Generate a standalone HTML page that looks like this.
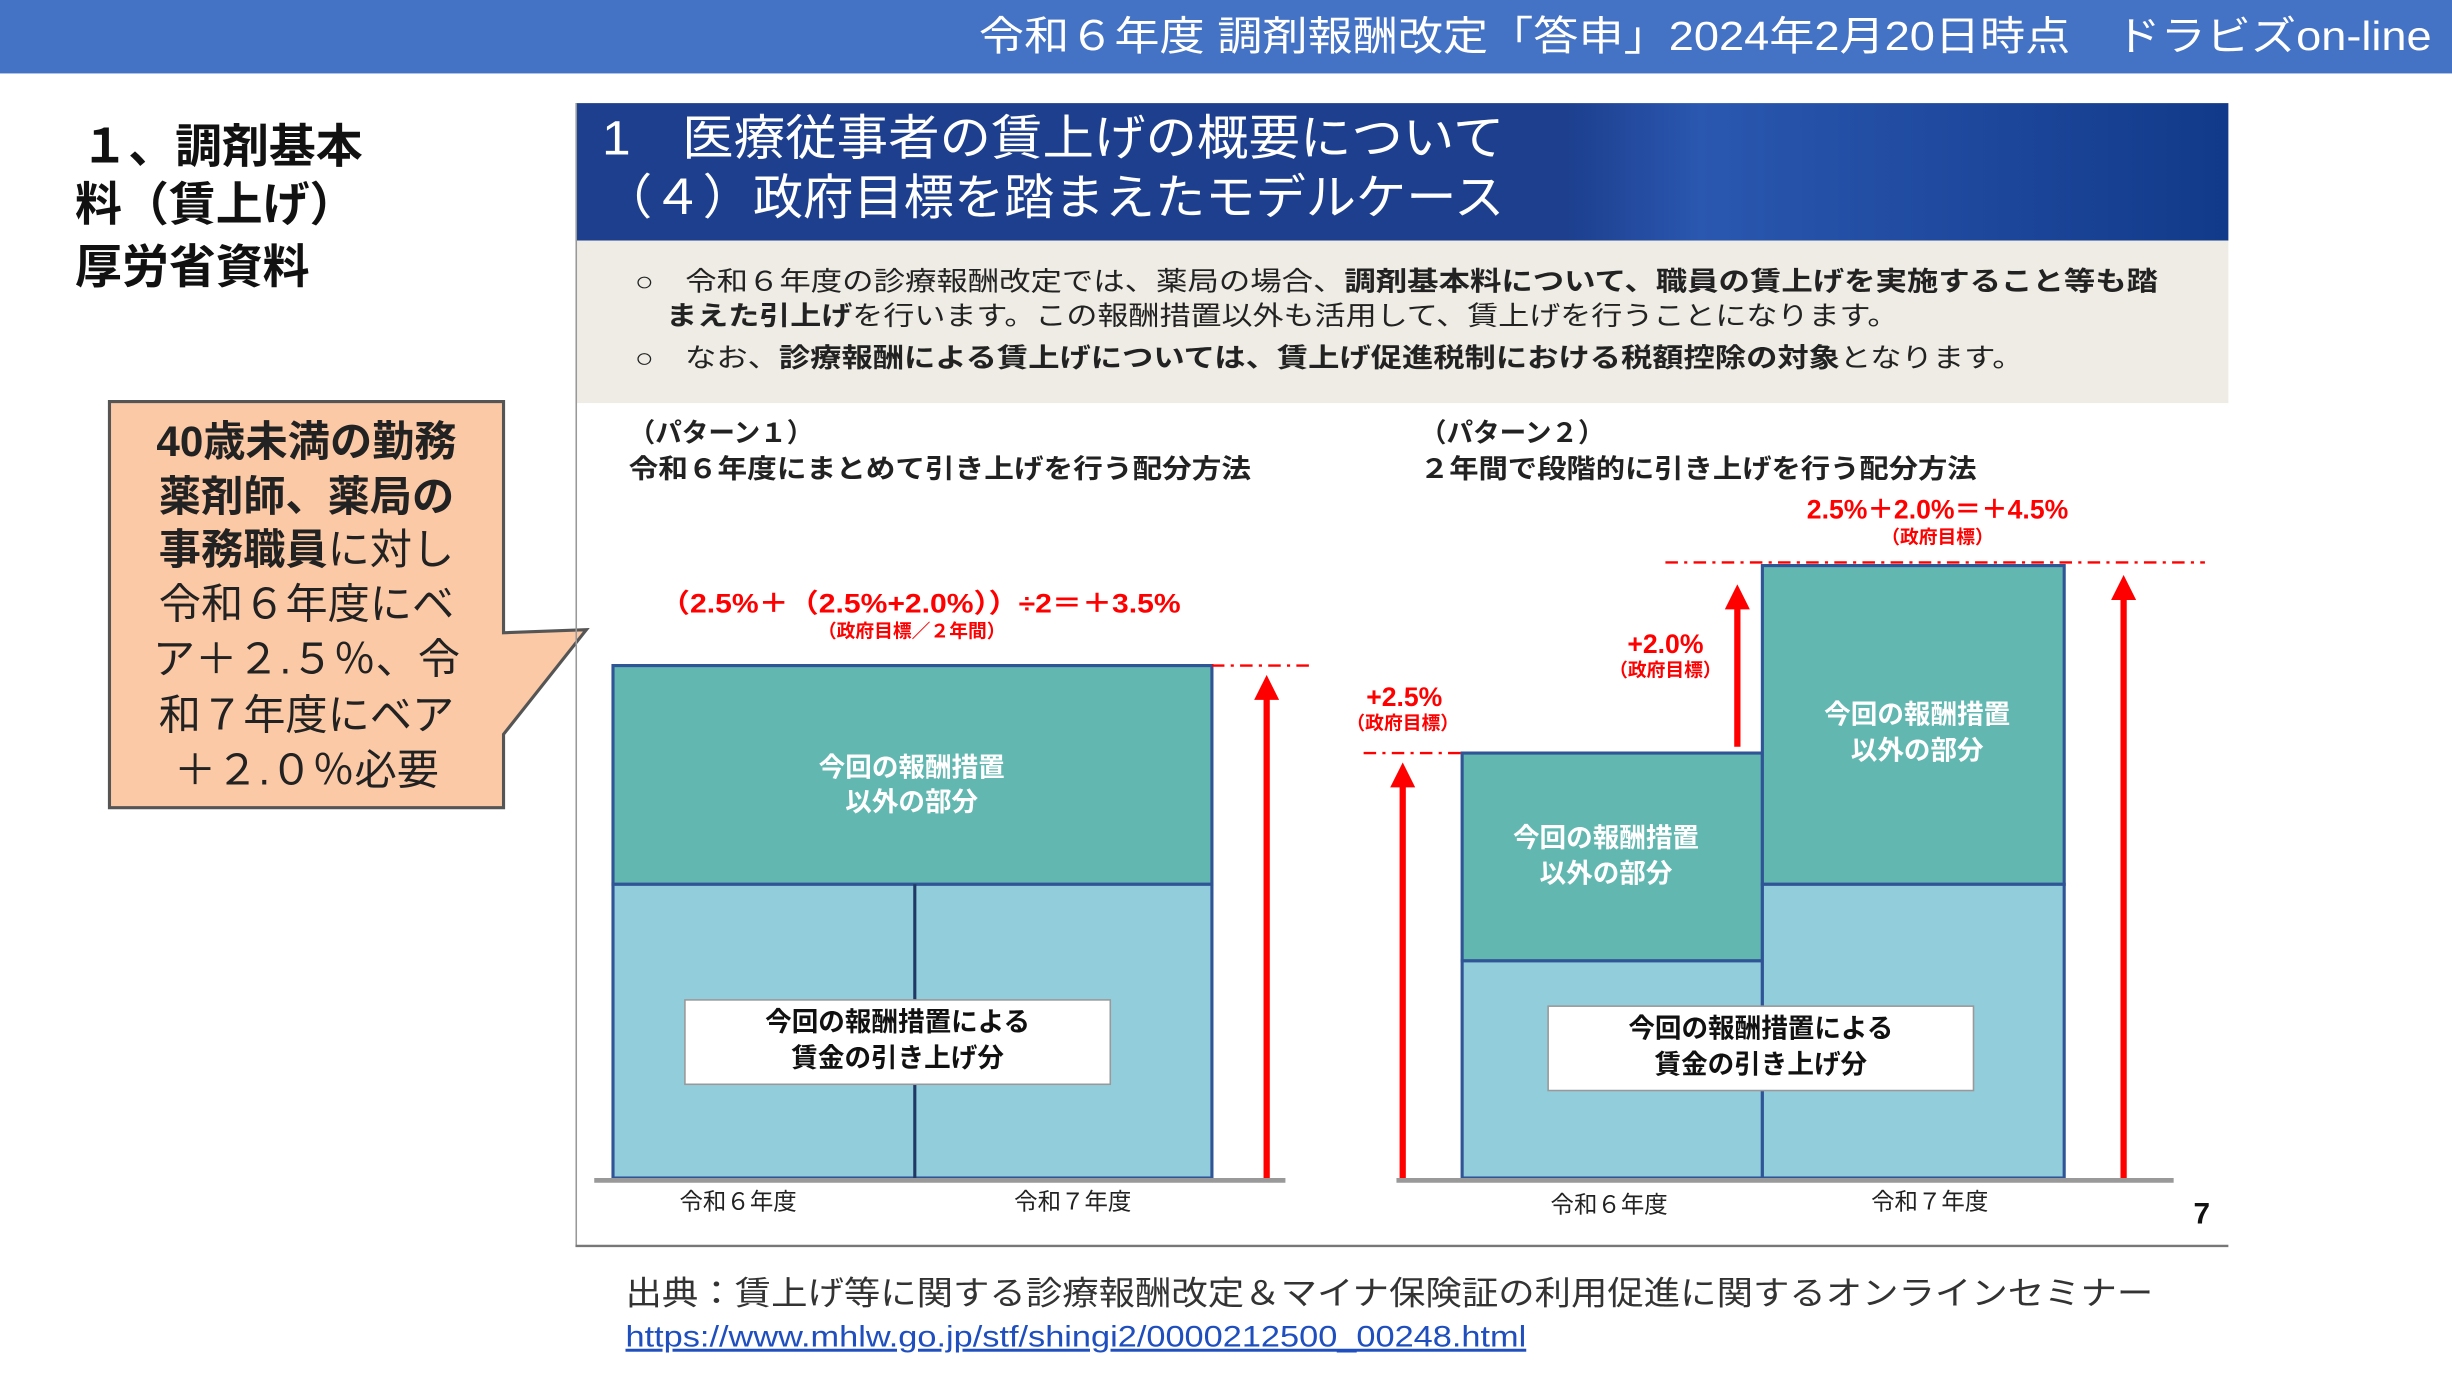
<!DOCTYPE html>
<html><head><meta charset="utf-8"><style>
html,body{margin:0;padding:0;background:#fff;}
svg{display:block;}
text{font-family:"Liberation Sans","Noto Sans CJK JP",sans-serif;}
</style></head><body>
<svg width="2452" height="1378" viewBox="0 0 1568 882" preserveAspectRatio="none" xmlns="http://www.w3.org/2000/svg">
<defs>
<linearGradient id="hg" x1="0" y1="0" x2="1" y2="0">
<stop offset="0" stop-color="#1d3f8e"/><stop offset="0.6" stop-color="#1d3f8e"/><stop offset="0.68" stop-color="#2a57b0"/><stop offset="1" stop-color="#123a8a"/>
</linearGradient>
<marker id="ah" markerWidth="4" markerHeight="4" refX="2" refY="2" orient="auto" markerUnits="strokeWidth"><path d="M0,0 L4,2 L0,4 z" fill="#f00"/></marker>
</defs>
<rect x="0" y="0" width="1568" height="47" fill="#4472c4"/>
<text x="626" y="32" font-size="26" fill="#fff" textLength="929" lengthAdjust="spacingAndGlyphs">令和６年度 調剤報酬改定「答申」2024年2月20日時点　ドラビズon-line</text>
<g font-size="30" font-weight="bold" fill="#111">
<text x="52" y="104">１、調剤基本</text>
<text x="48" y="141">料（賃上げ）</text>
<text x="48" y="181">厚労省資料</text>
</g>
<path d="M70,257 L322,257 L322,405 L375,403 L322,470 L322,517 L70,517 Z" fill="#fbc9a6" stroke="#555" stroke-width="2"/>
<g font-size="27" fill="#222" text-anchor="middle">
<text x="196" y="292" font-weight="bold">40歳未満の勤務</text>
<text x="196" y="327" font-weight="bold">薬剤師、薬局の</text>
<text x="196" y="361"><tspan font-weight="bold">事務職員</tspan>に対し</text>
<text x="196" y="396">令和６年度にベ</text>
<text x="196" y="431">ア＋２.５％、令</text>
<text x="196" y="467">和７年度にベア</text>
<text x="196" y="502">＋２.０％必要</text>
</g>
<rect x="368" y="66" width="1057" height="88" fill="url(#hg)"/>
<text x="385" y="99" font-size="31" fill="#fff" textLength="577" lengthAdjust="spacingAndGlyphs">1　医療従事者の賃上げの概要について</text>
<text x="385" y="137" font-size="31" fill="#fff" textLength="577" lengthAdjust="spacingAndGlyphs">（４）政府目標を踏まえたモデルケース</text>
<rect x="368" y="154" width="1057" height="104" fill="#eeece4"/>
<g font-size="17" fill="#222">
<text x="406" y="186" textLength="974" lengthAdjust="spacingAndGlyphs">○　令和６年度の診療報酬改定では、薬局の場合、<tspan font-weight="bold">調剤基本料について、職員の賃上げを実施すること等も踏</tspan></text>
<text x="426" y="208" textLength="788" lengthAdjust="spacingAndGlyphs"><tspan font-weight="bold">まえた引上げ</tspan>を行います。この報酬措置以外も活用して、賃上げを行うことになります。</text>
<text x="406" y="235" textLength="888" lengthAdjust="spacingAndGlyphs">○　なお、<tspan font-weight="bold">診療報酬による賃上げについては、賃上げ促進税制における税額控除の対象</tspan>となります。</text>
</g>
<line x1="368.5" y1="66" x2="368.5" y2="797" stroke="#999" stroke-width="1"/>
<line x1="368" y1="797.5" x2="1425" y2="797.5" stroke="#777" stroke-width="1.5"/>
<g font-size="17" font-weight="bold" fill="#222">
<text x="402" y="283">（パターン１）</text>
<text x="402" y="306" textLength="398" lengthAdjust="spacingAndGlyphs">令和６年度にまとめて引き上げを行う配分方法</text>
<text x="908" y="283">（パターン２）</text>
<text x="908" y="306" textLength="356" lengthAdjust="spacingAndGlyphs">２年間で段階的に引き上げを行う配分方法</text>
</g>
<!-- pattern1 -->
<rect x="392" y="426" width="383" height="140" fill="#62b8b0" stroke="#2f5597" stroke-width="2"/>
<rect x="392" y="566" width="383" height="188" fill="#92cddc" stroke="#2f5597" stroke-width="2"/>
<line x1="585" y1="566" x2="585" y2="754" stroke="#1f3864" stroke-width="2"/>
<rect x="438" y="640" width="272" height="54" fill="#fff" stroke="#999"/>
<g font-size="17" font-weight="bold" text-anchor="middle">
<text x="583" y="497" fill="#fff">今回の報酬措置</text>
<text x="583" y="519" fill="#fff">以外の部分</text>
<text x="574" y="660" fill="#111">今回の報酬措置による</text>
<text x="574" y="683" fill="#111">賃金の引き上げ分</text>
</g>
<line x1="380" y1="755.5" x2="822" y2="755.5" stroke="#999" stroke-width="3"/>
<line x1="810" y1="754" x2="810" y2="440" stroke="#f00" stroke-width="4" marker-end="url(#ah)"/>
<line x1="775" y1="426" x2="840" y2="426" stroke="#f00" stroke-width="1.5" stroke-dasharray="8,4,2,4"/>
<text x="422" y="392" font-size="17" font-weight="bold" fill="#f00" textLength="333" lengthAdjust="spacingAndGlyphs">（2.5%＋（2.5%+2.0%））÷2＝＋3.5%</text>
<text x="583" y="408" font-size="12" font-weight="bold" fill="#f00" text-anchor="middle">（政府目標／２年間）</text>
<text x="472" y="774" font-size="15" fill="#222" text-anchor="middle">令和６年度</text>
<text x="686" y="774" font-size="15" fill="#222" text-anchor="middle">令和７年度</text>
<!-- pattern2 -->
<rect x="935" y="482" width="192" height="133" fill="#62b8b0" stroke="#2f5597" stroke-width="2"/>
<rect x="935" y="615" width="192" height="139" fill="#92cddc" stroke="#2f5597" stroke-width="2"/>
<rect x="1127" y="362" width="193" height="204" fill="#62b8b0" stroke="#2f5597" stroke-width="2"/>
<rect x="1127" y="566" width="193" height="188" fill="#92cddc" stroke="#2f5597" stroke-width="2"/>
<rect x="990" y="644" width="272" height="54" fill="#fff" stroke="#999"/>
<g font-size="17" font-weight="bold" text-anchor="middle">
<text x="1027" y="542" fill="#fff">今回の報酬措置</text>
<text x="1027" y="565" fill="#fff">以外の部分</text>
<text x="1226" y="463" fill="#fff">今回の報酬措置</text>
<text x="1226" y="486" fill="#fff">以外の部分</text>
<text x="1126" y="664" fill="#111">今回の報酬措置による</text>
<text x="1126" y="687" fill="#111">賃金の引き上げ分</text>
</g>
<line x1="893" y1="755.5" x2="1390" y2="755.5" stroke="#999" stroke-width="3"/>
<line x1="897" y1="754" x2="897" y2="496" stroke="#f00" stroke-width="4" marker-end="url(#ah)"/>
<line x1="1111" y1="478" x2="1111" y2="382" stroke="#f00" stroke-width="4" marker-end="url(#ah)"/>
<line x1="1358" y1="754" x2="1358" y2="376" stroke="#f00" stroke-width="4" marker-end="url(#ah)"/>
<line x1="872" y1="482" x2="935" y2="482" stroke="#f00" stroke-width="1.5" stroke-dasharray="8,4,2,4"/>
<line x1="1065" y1="360" x2="1410" y2="360" stroke="#f00" stroke-width="1.5" stroke-dasharray="8,4,2,4"/>
<g font-weight="bold" fill="#f00" text-anchor="middle">
<text x="898" y="452" font-size="17">+2.5%</text>
<text x="897" y="467" font-size="12">（政府目標）</text>
<text x="1065" y="418" font-size="17">+2.0%</text>
<text x="1065" y="433" font-size="12">（政府目標）</text>
<text x="1239" y="332" font-size="17">2.5%＋2.0%＝＋4.5%</text>
<text x="1239" y="348" font-size="12">（政府目標）</text>
</g>
<text x="1029" y="776" font-size="15" fill="#222" text-anchor="middle">令和６年度</text>
<text x="1234" y="774" font-size="15" fill="#222" text-anchor="middle">令和７年度</text>
<text x="1408" y="783" font-size="19" font-weight="bold" fill="#111" text-anchor="middle">7</text>
<text x="400" y="835" font-size="21" fill="#333" textLength="977" lengthAdjust="spacingAndGlyphs">出典：賃上げ等に関する診療報酬改定＆マイナ保険証の利用促進に関するオンラインセミナー</text>
<text x="400" y="862" font-size="19" fill="#1f4fbf" text-decoration="underline" textLength="576" lengthAdjust="spacingAndGlyphs">https://www.mhlw.go.jp/stf/shingi2/0000212500_00248.html</text>
</svg>
</body></html>
